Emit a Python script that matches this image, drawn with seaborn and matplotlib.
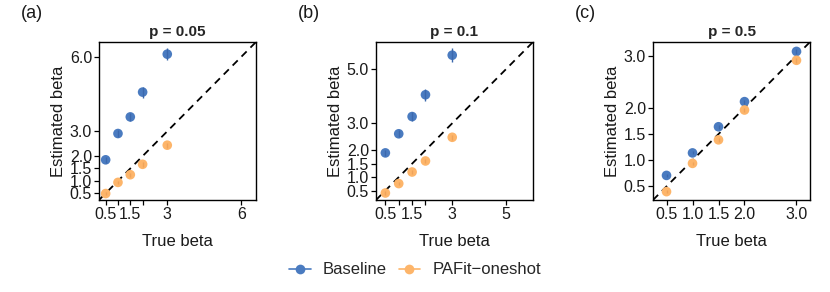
import matplotlib
matplotlib.use("Agg")
import matplotlib.pyplot as plt
from matplotlib.lines import Line2D
import seaborn as sns
import pandas as pd
import numpy as np

sns.set_style("white")
plt.rcParams['font.family'] = ['Liberation Sans', 'DejaVu Sans']

true_beta = [0.5, 1.0, 1.5, 2.0, 3.0]

# panel (a) p = 0.05
base_a = [1.85, 2.91, 3.58, 4.58, 6.11]
base_a_err = [0.12, 0.13, 0.16, 0.22, 0.25]
paf_a = [0.49, 0.94, 1.25, 1.67, 2.44]
paf_a_err = [0.06, 0.07, 0.08, 0.09, 0.1]

# panel (b) p = 0.1
base_b = [1.90, 2.61, 3.25, 4.06, 5.53]
base_b_err = [0.12, 0.13, 0.16, 0.22, 0.25]
paf_b = [0.41, 0.76, 1.19, 1.60, 2.48]
paf_b_err = [0.06, 0.07, 0.08, 0.09, 0.1]

# panel (c) p = 0.5
base_c = [0.71, 1.14, 1.64, 2.12, 3.08]
base_c_err = [0.03, 0.03, 0.04, 0.04, 0.05]
paf_c = [0.40, 0.94, 1.39, 1.96, 2.91]
paf_c_err = [0.03, 0.03, 0.04, 0.04, 0.05]

titles = ["p = 0.05", "p = 0.1", "p = 0.5"]
panel_tags = ["(a)", "(b)", "(c)"]
x_ticks = [[0.5, 1, 1.5, 2, 3, 6], [0.5, 1, 1.5, 2, 3, 5], [0.5, 1, 1.5, 2, 3]]
x_ticklabels = [["0.5", "", "1.5", "", "3", "6"], ["0.5", "", "1.5", "", "3", "5"],
                ["0.5", "1.0", "1.5", "2.0", "3.0"]]
y_ticks = [[0.5, 1, 1.5, 2, 3, 6], [0.5, 1, 1.5, 2, 3, 5], [0.5, 1, 1.5, 2, 3]]
y_ticklabels = [["0.5", "1.0", "1.5", "2.0", "3.0", "6.0"],
                ["0.5", "1.0", "1.5", "2.0", "3.0", "5.0"],
                ["0.5", "1.0", "1.5", "2.0", "3.0"]]
limits = [(0.23, 6.6), (0.15, 6.02), (0.24, 3.26)]

methods = ["Baseline", "PAFit\u2212oneshot"]
colors = {"Baseline": "#4A7BC0", "PAFit\u2212oneshot": "#FDB56A"}
bar_colors = {"Baseline": "#3B68AD", "PAFit\u2212oneshot": "#EFA35A"}

panels = [(base_a, base_a_err, paf_a, paf_a_err),
          (base_b, base_b_err, paf_b, paf_b_err),
          (base_c, base_c_err, paf_c, paf_c_err)]

fig = plt.figure(figsize=(8.3, 2.92), dpi=100)
lefts = [99 / 830, 376 / 830, 653 / 830]
w = 157 / 830
bottom = 1 - 200 / 292
h = 158 / 292
txt = "#1a1a1a"

for i, (b, be, p, pe) in enumerate(panels):
    ax = fig.add_axes([lefts[i], bottom, w, h])
    df = pd.DataFrame({
        "true": true_beta * 2,
        "est": b + p,
        "err": be + pe,
        "method": [methods[0]] * 5 + [methods[1]] * 5,
    })
    lo, hi = limits[i]
    ax.plot([lo, hi], [lo, hi], color="black", linestyle=(0, (4, 3)), linewidth=1.3, zorder=1)
    sns.scatterplot(data=df, x="true", y="est", hue="method", palette=colors,
                    s=48, edgecolor="none", legend=False, ax=ax, zorder=3)
    for m in methods:
        d = df[df.method == m]
        ax.vlines(d["true"], d["est"] - d["err"], d["est"] + d["err"],
                  color=bar_colors[m], linewidth=1.0, zorder=4)
    ax.set_xlim(lo, hi)
    ax.set_ylim(lo, hi)
    ax.set_xticks(x_ticks[i])
    ax.set_xticklabels(x_ticklabels[i])
    ax.set_yticks(y_ticks[i])
    ax.set_yticklabels(y_ticklabels[i])
    ax.tick_params(axis="both", which="both", direction="out", length=3.5, width=0.9,
                   color="black", labelsize=11.5, labelcolor=txt, pad=1.5,
                   bottom=True, left=True)
    for s in ax.spines.values():
        s.set_color("black")
        s.set_linewidth(1.0)
    ax.set_xlabel("True beta", fontsize=12, color=txt, labelpad=9)
    ax.set_ylabel("Estimated beta", fontsize=12, color=txt, labelpad=3)
    ax.set_title(titles[i], fontsize=11, fontweight="bold", pad=4)
    fig.text(lefts[i] - 78 / 830, 1 - 13 / 292, panel_tags[i], fontsize=13,
             ha="left", va="center", color=txt)

handles = [Line2D([0], [0], color=colors[m], marker="o", markersize=7, linewidth=1.2,
                  markeredgecolor="none") for m in methods]
fig.legend(handles, methods, loc="center", bbox_to_anchor=(0.5, 1 - 270 / 292), ncol=2,
           frameon=False, fontsize=12, handlelength=1.3, columnspacing=0.7,
           handletextpad=0.72)

fig.savefig("out.png", dpi=100, facecolor="white")
